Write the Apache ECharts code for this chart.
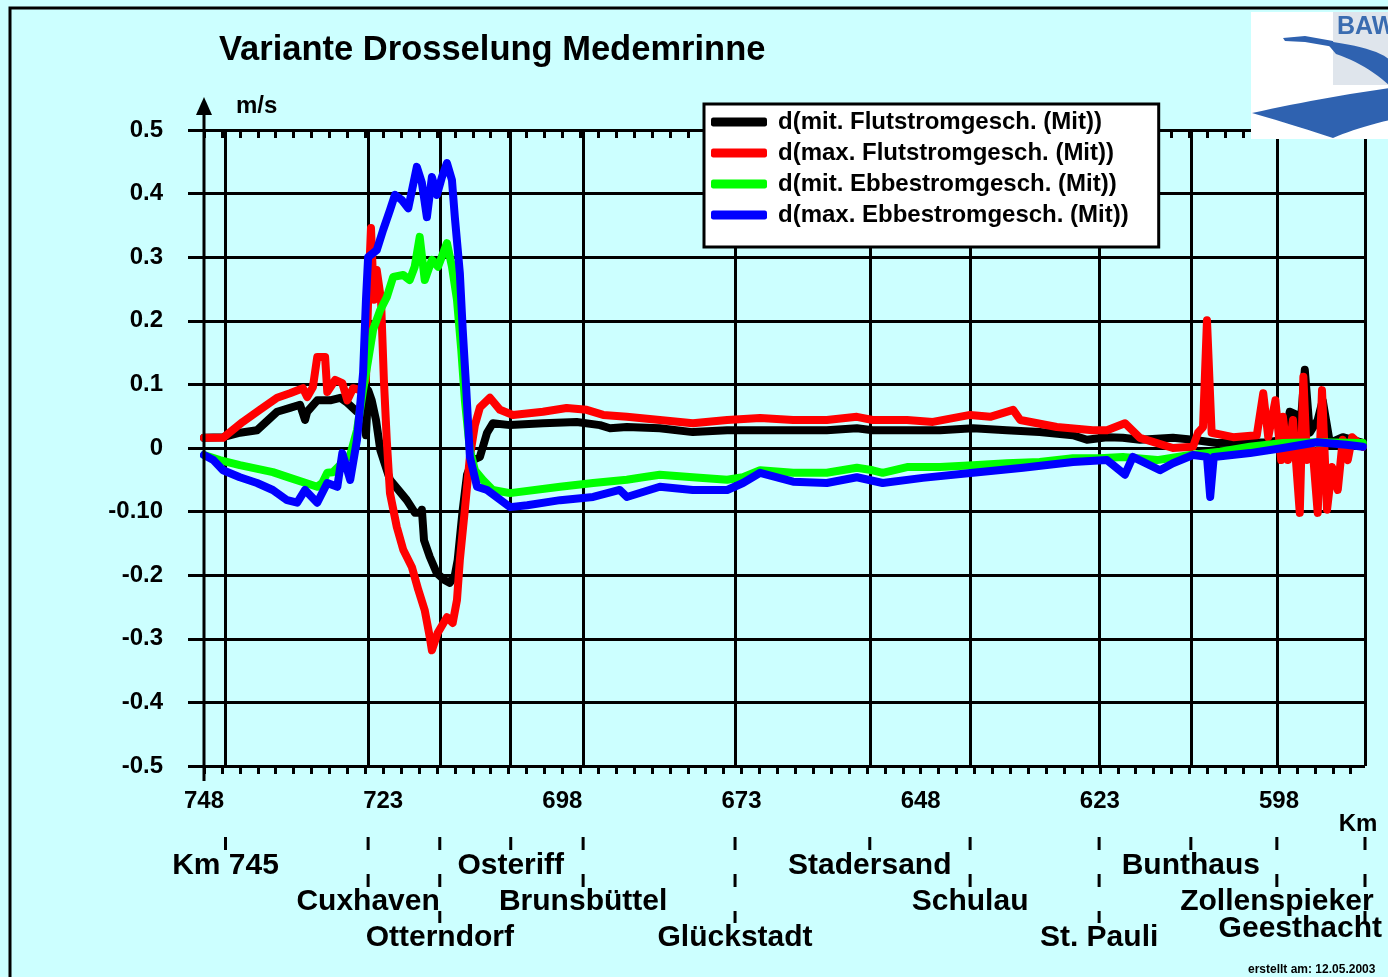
<!DOCTYPE html>
<html>
<head>
<meta charset="utf-8">
<title>Variante Drosselung Medemrinne</title>
<script src="https://cdn.jsdelivr.net/npm/echarts@6/dist/echarts.min.js"></script>
<style>
  html, body { margin: 0; padding: 0; background: #ccffff; }
  #chart { width: 1388px; height: 977px; }
</style>
</head>
<body>
<div id="chart"></div>
<script>
// Elbe-Kilometer (x) and velocity difference in m/s (y), one [km, value] pair per point
const mitFlut = [
  [748.0,0.016],[745.35,0.017],[742.98,0.024],[740.6,0.028],[737.8,0.057],[736.0,0.063],[734.6,0.068],
  [733.9,0.044],[733.6,0.057],[732.2,0.075],[730.4,0.075],[729.0,0.079],[728.0,0.071],[726.65,0.057],
  [725.8,0.055],[725.4,0.020],[725.1,0.091],[724.6,0.075],[724.0,0.044],[723.4,-0.003],[722.05,-0.050],
  [720.65,-0.069],[719.7,-0.082],[718.56,-0.102],[717.7,-0.102],[717.6,-0.097],[717.3,-0.145],[716.5,-0.171],
  [715.5,-0.197],[714.4,-0.208],[713.7,-0.212],[713.0,-0.200],[712.6,-0.176],[711.9,-0.097],[711.3,-0.042],
  [710.5,-0.019],[709.5,-0.014],[708.5,0.024],[707.7,0.039],[705.3,0.036],[700.7,0.039],[696.0,0.041],
  [692.75,0.036],[691.35,0.031],[689.0,0.033],[684.4,0.031],[679.8,0.025],[675.0,0.028],[670.4,0.028],
  [665.8,0.028],[661.1,0.028],[656.9,0.031],[654.7,0.028],[649.9,0.028],[645.3,0.028],[640.7,0.031],
  [636.0,0.028],[631.4,0.025],[626.75,0.020],[624.8,0.013],[622.0,0.017],[619.8,0.016],[617.4,0.013],
  [612.8,0.016],[610.0,0.013],[606.7,0.008],[599.7,0.009],[597.2,0.013],[596.5,0.057],[595.5,0.052],
  [595.1,0.020],[594.4,0.123],[593.7,0.024],[592.6,0.044],[591.9,0.075],[590.9,0.008],[589.1,0.017],[586.3,0.008]
];
const maxFlut = [
  [748.0,0.016],[745.35,0.016],[742.6,0.041],[740.2,0.060],[737.8,0.079],[736.0,0.086],[734.2,0.094],
  [733.6,0.080],[732.8,0.096],[732.2,0.143],[731.1,0.143],[730.8,0.088],[729.7,0.107],[728.7,0.102],
  [728.0,0.075],[727.2,0.094],[726.2,0.091],[725.4,0.107],[725.1,0.233],[724.7,0.346],[724.3,0.233],
  [723.9,0.280],[723.3,0.233],[722.9,0.107],[722.5,0.013],[722.05,-0.071],[721.1,-0.124],[720.2,-0.160],
  [719.0,-0.187],[718.1,-0.223],[717.2,-0.255],[716.5,-0.297],[716.2,-0.318],[715.4,-0.291],[714.1,-0.266],
  [713.3,-0.275],[712.7,-0.239],[712.3,-0.176],[711.6,-0.097],[710.9,-0.014],[710.2,0.036],[709.5,0.064],
  [708.1,0.079],[706.7,0.060],[704.9,0.052],[700.7,0.057],[697.4,0.063],[694.6,0.060],[692.3,0.052],
  [689.0,0.049],[684.4,0.044],[679.8,0.039],[675.0,0.044],[670.4,0.047],[665.8,0.044],[661.1,0.044],
  [656.9,0.049],[654.7,0.044],[649.9,0.044],[646.3,0.041],[641.1,0.052],[638.3,0.049],[635.1,0.060],
  [634.1,0.044],[629.0,0.033],[624.0,0.028],[622.0,0.028],[619.5,0.039],[617.4,0.016],[612.8,0.000],
  [610.0,0.002],[609.3,0.024],[608.6,0.033],[608.05,0.201],[607.4,0.024],[604.4,0.017],[601.1,0.020],
  [600.2,0.086],[599.5,0.017],[598.5,0.075],[597.7,-0.019],[597.45,0.049],[596.75,-0.019],[596.05,0.044],
  [595.1,-0.102],[594.6,0.112],[594.1,-0.019],[593.3,-0.003],[592.6,-0.102],[592.0,0.091],[591.3,-0.097],
  [590.6,-0.030],[589.8,-0.066],[589.1,0.013],[588.4,-0.019],[587.8,0.017],[586.3,0.002]
];
const mitEbbe = [
  [748.0,-0.011],[745.8,-0.019],[743.0,-0.027],[738.4,-0.038],[736.0,-0.047],[732.2,-0.061],[731.5,-0.055],
  [730.8,-0.039],[730.0,-0.038],[727.6,-0.011],[726.65,0.028],[725.8,0.091],[725.1,0.138],[724.4,0.186],
  [723.4,0.217],[722.5,0.237],[721.6,0.269],[720.2,0.272],[719.3,0.264],[718.6,0.285],[717.9,0.332],
  [717.2,0.264],[716.2,0.296],[715.35,0.285],[714.1,0.322],[713.4,0.285],[712.7,0.233],[712.1,0.154],
  [711.6,0.075],[710.9,-0.003],[710.2,-0.035],[709.1,-0.050],[707.7,-0.066],[705.3,-0.071],[698.3,-0.061],
  [693.7,-0.055],[689.0,-0.050],[686.75,-0.046],[684.4,-0.042],[679.8,-0.046],[675.0,-0.050],[672.8,-0.046],
  [670.4,-0.035],[665.8,-0.039],[661.1,-0.039],[656.9,-0.031],[654.7,-0.035],[653.3,-0.039],[649.9,-0.030],
  [645.3,-0.030],[640.7,-0.027],[636.0,-0.024],[631.4,-0.022],[626.75,-0.016],[623.0,-0.016],[619.8,-0.014],
  [615.0,-0.019],[610.4,-0.011],[606.2,-0.006],[602.05,0.002],[597.45,0.008],[592.7,0.009],[586.3,0.008]
];
const maxEbbe = [
  [748.0,-0.011],[746.7,-0.019],[745.35,-0.035],[743.0,-0.046],[740.6,-0.055],[738.4,-0.066],[736.4,-0.082],
  [735.0,-0.086],[733.9,-0.066],[732.2,-0.086],[730.8,-0.055],[729.4,-0.061],[728.7,-0.008],[727.6,-0.050],
  [726.65,0.013],[725.8,0.118],[725.4,0.233],[725.1,0.300],[723.9,0.311],[723.0,0.343],[722.05,0.374],
  [721.35,0.398],[720.4,0.390],[719.5,0.377],[718.3,0.442],[717.6,0.417],[716.9,0.363],[716.2,0.426],
  [715.5,0.398],[714.8,0.426],[714.1,0.448],[713.4,0.421],[713.0,0.363],[712.3,0.275],[711.9,0.186],
  [711.4,0.091],[710.9,-0.014],[709.9,-0.061],[708.5,-0.066],[705.3,-0.093],[702.9,-0.090],[698.3,-0.082],
  [693.7,-0.077],[690.0,-0.066],[689.0,-0.077],[684.4,-0.061],[679.8,-0.066],[675.0,-0.066],[672.8,-0.055],
  [670.4,-0.039],[665.8,-0.053],[661.1,-0.055],[656.9,-0.046],[653.3,-0.055],[647.7,-0.047],[640.7,-0.039],
  [633.7,-0.031],[626.75,-0.022],[622.0,-0.019],[619.5,-0.042],[618.4,-0.014],[614.6,-0.035],[612.8,-0.024],
  [610.0,-0.011],[608.05,-0.014],[607.6,-0.077],[607.1,-0.014],[602.05,-0.008],[597.45,0.000],[592.7,0.009],
  [588.6,0.005],[586.3,0.002]
];

const seriesNames = [
  'd(mit. Flutstromgesch. (Mit))',
  'd(max. Flutstromgesch. (Mit))',
  'd(mit. Ebbestromgesch. (Mit))',
  'd(max. Ebbestromgesch. (Mit))'
];
const seriesColors = ['#000000', '#ff0000', '#00ff00', '#0000ff'];

// axis labelling
const kmLabels = [748, 723, 698, 673, 648, 623, 598];
const yTickLabels = ['-0.5', '-0.4', '-0.3', '-0.2', '-0.10', '0', '0.1', '0.2', '0.3', '0.4', '0.5'];

// gauge stations along the river (km) and the text row of each name
const stationNames = ['Km 745', 'Cuxhaven', 'Otterndorf', 'Osteriff', 'Brunsbüttel', 'Glückstadt',
  'Stadersand', 'Schulau', 'St. Pauli', 'Bunthaus', 'Zollenspieker', 'Geesthacht'];
const stationKm = [745, 725.1, 715.1, 705.2, 695.1, 673.9, 655.1, 641.1, 623.1, 610.3, 598.3, 586];
const stationRow = [0, 1, 2, 0, 1, 2, 0, 1, 2, 0, 1, 2];

const KM_MIN = 586, KM_MAX = 748;
const minorTicks = [];
for (let k = KM_MAX; k > KM_MIN; k -= 2.5) minorTicks.push(k);

const FONT = "'Liberation Sans', Arial, Helvetica, sans-serif";
const chart = echarts.init(document.getElementById('chart'), null, { renderer: 'canvas' });

const baseX = { type: 'value', min: KM_MIN, max: KM_MAX, inverse: true, splitLine: { show: false } };
const blackLine = { color: '#000', width: 3 };

chart.setOption({
  animation: false,
  backgroundColor: '#ccffff',
  grid: { left: 204, right: 23, top: 130, bottom: 211, containLabel: false },
  xAxis: [
    Object.assign({}, baseX, {
      position: 'bottom',
      axisLine: { show: true, lineStyle: blackLine },
      axisTick: { show: true, customValues: stationKm, length: 15, lineStyle: blackLine },
      axisLabel: { customValues: kmLabels, margin: 23, fontSize: 24, fontWeight: 'bold', color: '#000', fontFamily: FONT }
    }),
    Object.assign({}, baseX, {
      position: 'bottom',
      axisLine: { show: false },
      axisTick: { show: true, customValues: stationKm, inside: true, length: 636, lineStyle: blackLine },
      axisLabel: { show: false }
    }),
    Object.assign({}, baseX, {
      position: 'bottom',
      axisLine: { show: false },
      axisTick: { show: true, customValues: minorTicks, length: 8, lineStyle: blackLine },
      axisLabel: { show: false }
    }),
    Object.assign({}, baseX, {
      position: 'top',
      axisLine: { show: false },
      axisTick: { show: true, customValues: minorTicks, inside: true, length: 8, lineStyle: blackLine },
      axisLabel: { show: false }
    })
  ],
  yAxis: {
    type: 'value', min: -0.5, max: 0.5, interval: 0.1,
    axisLine: { show: false },
    axisTick: { show: true, length: 16, lineStyle: blackLine },
    axisLabel: {
      margin: 41, fontSize: 24, fontWeight: 'bold', color: '#000', fontFamily: FONT,
      formatter: (v, i) => yTickLabels[i]
    },
    splitLine: { show: true, lineStyle: blackLine }
  },
  legend: {
    left: 704, top: 104, orient: 'vertical',
    backgroundColor: '#ffffff', borderColor: '#000', borderWidth: 3,
    padding: [6, 30, 20, 7],
    itemWidth: 56, itemHeight: 9, itemGap: 7,
    icon: 'roundRect', selectedMode: false,
    textStyle: { fontSize: 24, fontWeight: 'bold', color: '#000', fontFamily: FONT, lineHeight: 24, padding: [0, 0, 0, 6] },
    data: seriesNames
  },
  series: [mitFlut, maxFlut, mitEbbe, maxEbbe].map((d, i) => ({
    name: seriesNames[i],
    type: 'line',
    xAxisIndex: 0,
    data: d,
    showSymbol: false,
    symbol: 'none',
    z: 2 + i,
    color: seriesColors[i],
    lineStyle: { color: seriesColors[i], width: 8, cap: 'round', join: 'round' }
  }))
});

// annotations placed from the axis scales
const toPx = (km, v) => chart.convertToPixel({ xAxisIndex: 0, yAxisIndex: 0 }, [km, v]);
const [axisX, topY] = toPx(KM_MAX, 0.5);
const bottomY = toPx(KM_MAX, -0.5)[1];
const W = chart.getWidth();

const txt = (text, x, y, size, align, extra) => ({
  type: 'text', z: 20,
  style: Object.assign({ text, x, y, fill: '#000', fontSize: size, fontWeight: 'bold', fontFamily: FONT,
    align: align || 'left', verticalAlign: 'middle' }, extra || {})
});

const graphics = [
  { type: 'rect', z: 30, shape: { x: 10, y: 8, width: 1400, height: 1000 }, style: { fill: 'none', stroke: '#000', lineWidth: 3 } },
  txt('Variante Drosselung Medemrinne', 219, 50, 34.5),
  txt('m/s', 236, 106, 24),
  { type: 'line', z: 20, shape: { x1: axisX, y1: topY - 17, x2: axisX, y2: bottomY + 15 }, style: { stroke: '#000', lineWidth: 3 } },
  { type: 'polygon', z: 20, shape: { points: [[axisX, topY - 33], [axisX - 8, topY - 15], [axisX + 8, topY - 15]] }, style: { fill: '#000' } },
  txt('Km', 1358, 824, 24, 'center'),
  txt('erstellt am: 12.05.2003', 1248, 970, 12, 'left')
];

const rowY = [866, 902, 938];
const dashEnd = [850, 887, 923];
stationNames.forEach((name, i) => {
  const x = toPx(stationKm[i], 0)[0];
  const r = stationRow[i];
  graphics.push({ type: 'line', z: 20, shape: { x1: x, y1: 837, x2: x, y2: dashEnd[r] },
    style: { stroke: '#000', lineWidth: 3, lineDash: [13, 24] } });
  // names near the right edge are pulled inside the picture
  const half = name.length * 7.8;
  if (x + half > W - 6) {
    graphics.push(txt(name, W - 6, rowY[r] - 9, 30, 'right'));
  } else {
    graphics.push(txt(name, x, rowY[r], 30, 'center'));
  }
});

// BAW logo: outline of the swoosh built from quadratic curve segments
function quad(p0, c, p1, n) {
  const pts = [];
  for (let k = 1; k <= n; k++) {
    const t = k / n, u = 1 - t;
    pts.push([u * u * p0[0] + 2 * u * t * c[0] + t * t * p1[0], u * u * p0[1] + 2 * u * t * c[1] + t * t * p1[1]]);
  }
  return pts;
}
const upperArm = [[1325, 41]].concat(quad([1325, 41], [1375, 47], [1390, 60], 12), [[1390, 86]], quad([1390, 86], [1366, 64], [1336, 54], 12));
const lowerBand = [[1252, 113]].concat(quad([1252, 113], [1320, 98], [1390, 88], 14), [[1390, 120]],
  quad([1390, 120], [1356, 128], [1333, 138], 10), quad([1333, 138], [1290, 124], [1252, 113], 10));
const LOGO_BLUE = '#2f62b0';

[
  { type: 'rect', shape: { x: 1251, y: 12, width: 140, height: 127 }, style: { fill: '#ffffff' } },
  { type: 'rect', shape: { x: 1333, y: 12, width: 58, height: 73 }, style: { fill: '#dfe5ec' } },
  { type: 'text', style: { text: 'BAW', x: 1337, y: 27, fill: '#3a6cb0', fontSize: 25, fontWeight: 'bold', fontFamily: FONT, verticalAlign: 'middle' } },
  { type: 'polygon', shape: { points: [[1283, 38], [1305, 36], [1333, 41], [1334, 47], [1305, 42], [1285, 41]] }, style: { fill: LOGO_BLUE } },
  { type: 'polygon', shape: { points: upperArm }, style: { fill: LOGO_BLUE } },
  { type: 'polygon', shape: { points: lowerBand }, style: { fill: LOGO_BLUE } }
].forEach((el, i) => { el.z = 50; el.zlevel = 0; el.z2 = i; graphics.push(el); });

chart.setOption({ graphic: graphics });
</script>
</body>
</html>
